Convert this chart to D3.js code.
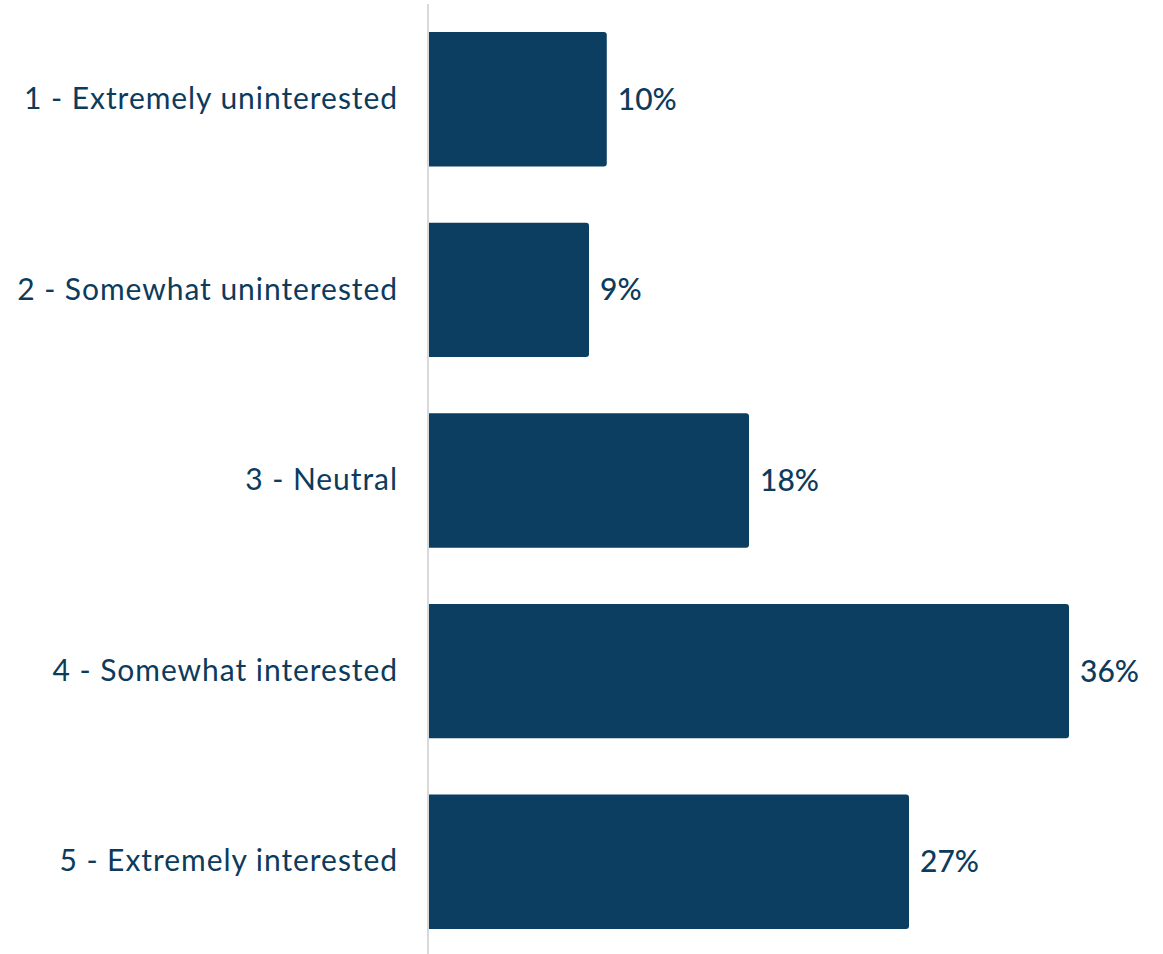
<!DOCTYPE html>
<html>
<head>
<meta charset="utf-8">
<script src="https://cdn.jsdelivr.net/npm/d3@7"></script>
<style>
  html, body { margin: 0; padding: 0; background: #fff; }
  svg { display: block; }
</style>
</head>
<body>
<svg id="chart" width="1163" height="954"></svg>
<script>
const categories = [
  "1 - Extremely uninterested",
  "2 - Somewhat uninterested",
  "3 - Neutral",
  "4 - Somewhat interested",
  "5 - Extremely interested"
];
const values = [10, 9, 18, 36, 27];
const valueLabels = ["10%", "9%", "18%", "36%", "27%"];

const W = 1163, H = 954;
const margin = { top: 4, right: 95, bottom: 0, left: 429 };
const barColor = "#0b3e61";
const textColor = "#0d3b5c";
const fontFamily = "Lato, 'Open Sans', sans-serif";

const svg = d3.select("#chart");

const x = d3.scaleLinear()
  .domain([0, 36])
  .range([margin.left, margin.left + 640]);

const y = d3.scaleBand()
  .domain(categories)
  .range([margin.top, 957])
  .paddingInner(0.295)
  .paddingOuter(0.1475);

const r = 3;
function barPath(x0, x1, y0, h) {
  return `M${x0},${y0}H${x1 - r}Q${x1},${y0} ${x1},${y0 + r}` +
         `V${y0 + h - r}Q${x1},${y0 + h} ${x1 - r},${y0 + h}H${x0}Z`;
}

svg.append("g")
  .selectAll("path")
  .data(values)
  .join("path")
  .attr("d", (d, i) => barPath(x(0), x(d), y(categories[i]), y.bandwidth()))
  .attr("fill", barColor);

// category axis on the left
const axis = svg.append("g")
  .attr("transform", `translate(${margin.left - 1},0)`)
  .call(d3.axisLeft(y).tickSize(0).tickPadding(30));
axis.select(".domain")
  .attr("d", `M0,4V954`)
  .attr("stroke", "#d9d9d9")
  .attr("stroke-width", 2);
axis.selectAll("text")
  .attr("font-family", fontFamily)
  .attr("font-size", 30)
  .attr("letter-spacing", "0.95px")
  .attr("fill", textColor);

// value labels
svg.append("g")
  .selectAll("text")
  .data(values)
  .join("text")
  .attr("x", d => x(d) + 11)
  .attr("y", (d, i) => y(categories[i]) + y.bandwidth() / 2)
  .attr("dy", "0.35em")
  .attr("font-family", fontFamily)
  .attr("font-size", 30)
  .attr("font-weight", 500)
  .attr("fill", textColor)
  .text((d, i) => valueLabels[i]);
</script>
</body>
</html>
